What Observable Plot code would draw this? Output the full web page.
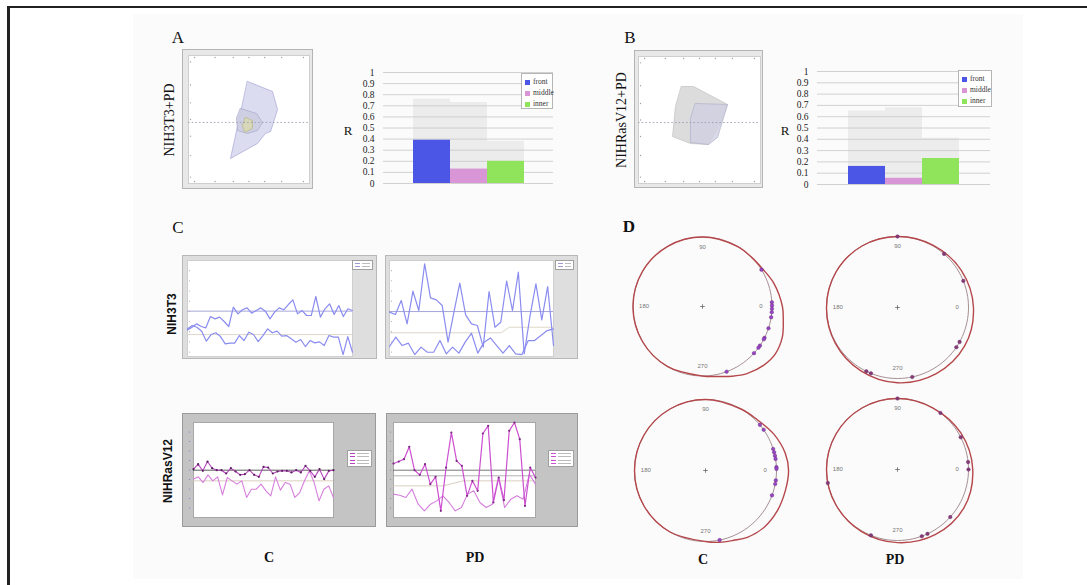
<!DOCTYPE html>
<html><head><meta charset="utf-8">
<script src="https://cdn.jsdelivr.net/npm/d3@7"></script>
<script src="https://cdn.jsdelivr.net/npm/@observablehq/plot@0.6"></script>
<style>
html,body{margin:0;padding:0;background:#fff;}
#fig{position:relative;width:1087px;height:585px;overflow:hidden;background:#fff;}
#fig svg{position:absolute;overflow:visible;}
</style></head><body><div id="fig"></div>
<script>
// ---------- DATA ----------
// Panels A/B bar charts
const barCategories = ["front", "middle", "inner"];
const barColors = ["#4b55e6", "#d896d6", "#8fe45c"];
const barValuesA = [0.39, 0.13, 0.20];
const barSpreadA = [0.76, 0.73, 0.38];
const barValuesB = [0.16, 0.055, 0.23];
const barSpreadB = [0.65, 0.68, 0.41];
const rTicks = [0, 0.1, 0.2, 0.3, 0.4, 0.5, 0.6, 0.7, 0.8, 0.9, 1];
const rTickLabels = ["0", "0.1", "0.2", "0.3", "0.4", "0.5", "0.6", "0.7", "0.8", "0.9", "1"];

// Panels A/B shape plots (units 0-100 of the inner area)
const radarAOuter = [[48.8,79.7],[69.4,71.9],[73.6,57.8],[67.8,40.6],[63.6,39.1],[57.0,31.3],[34.7,19.5],[42.1,51.6]];
const radarAMiddle = [[43.0,58.6],[56.2,54.7],[61.2,47.7],[57.0,41.4],[48.8,39.1],[40.5,41.4],[39.7,50.8]];
const radarAInner = [[47.1,51.6],[52.9,49.2],[52.9,43.0],[46.3,39.8],[44.6,45.3]];
const radarADash = 47.7;
const radarBOuter = [[35.2,76.4],[45.1,76.4],[73.0,62.2],[67.2,47.2],[57.4,30.7],[42.6,31.5],[27.9,37.0],[30.3,60.6]];
const radarBInner = [[46.7,63.0],[73.0,62.2],[64.8,36.2],[57.4,30.7],[42.6,32.3],[42.6,51.2]];
const radarBDash = 48.0;
const radarTicks = [5, 22, 37, 50, 63, 77, 95];

// Panel C traces
const nihC_upper = [31.8,34.4,37.7,35.1,33.8,44.9,42.6,44.3,40.0,35.1,54.1,47.5,51.5,53.4,48.2,50.8,53.4,50.2,42.6,49.2,53.4,51.5,56.7,61.3,47.5,50.8,45.9,45.9,64.6,44.3,52.5,57.4,46.9,55.7,44.9,52.5,50.8];
const nihC_lower = [32.8,36.1,34.4,30.5,20.7,27.2,28.9,25.2,18.0,18.7,18.7,26.2,21.3,29.5,27.2,20.3,26.2,32.8,28.9,30.5,25.6,26.2,23.0,19.7,22.3,15.4,21.3,19.0,20.0,16.4,26.2,24.6,24.6,7.5,25.2,9.8];
const nihC_refs = [50.2, 27.2];
const nihPD_upper = [49.2,46.9,60.7,37.7,69.8,50.8,96.7,63.3,61.3,55.7,19.7,49.2,77.7,46.6,37.7,36.1,14.8,69.5,34.4,39.3,79.7,50.8,88.5,8.2,45.9,77.0,41.6,74.4,16.4];
const nihPD_lower = [15.4,24.6,16.4,18.7,7.5,14.8,9.8,9.8,21.3,8.2,14.8,8.9,19.7,28.5,8.9,19.7,23.9,16.4,8.9,16.4,8.2,7.5,21.3,21.3,26.2,31.1,32.8];
const nihPD_ref = 49.8;
const nihPD_trend = [[0,28.9],[0.68,28.9],[0.73,34.4],[1,34.4]];
const rasC_line1 = [50.9,56.1,49.1,58.9,51.9,49.8,49.8,46.3,51.9,48.4,44.9,45.6,49.8,44.9,42.8,53.3,52.6,46.3,48.4,49.1,49.1,47.4,49.8,47.4,54.4,49.1,42.8,50.9,40.4,49.1,49.8];
const rasC_line2 = [40.4,42.8,36.8,44.9,38.6,42.8,23.9,42.1,38.6,35.1,38.6,21.1,29.8,29.8,35.1,28.1,22.8,42.8,28.8,36.8,35.1,21.1,26.3,38.6,49.1,36.8,17.5,29.8,33.3,21.1];
const rasC_refs = [49.8, 38.6];
const rasPD_line1 = [56.8,58.9,61.4,74.4,49.8,44.9,56.1,35.1,42.8,7.0,52.6,89.5,59.6,54.4,22.8,38.6,28.1,88.4,96.5,15.8,42.1,18.2,91.2,100,82.5,12.3,52.6,42.1];
const rasPD_line2 = [24.6,23.5,21.1,29.8,14.0,7.0,14.0,17.5,22.8,15.8,7.0,10.5,24.6,28.1,15.8,10.5,14.0,42.1,10.5,19.3,22.8,19.3,45.6,35.1];
const rasPD_refs = [49.8, 43.9];
const rasPD_trend = [[0,33.3],[0.35,33.3],[0.49,38.6],[1,38.6]];

// Panel D circular plots: angles (deg) of the cells, outer curve [angle, radius]
const anglesNihC = [32, 3.5, 0.8, -1.9, -4.7, -8.9, -18.3, -26.8, -28.1, -34.3, -36.4, -42.2, -69.7];
const anglesNihPD = [90, 49, 22, -29, -34, -78, -112, -116];
const anglesRasC = [40, 35, 17.6, 14.8, 12, 9.4, 2.7, 1.3, -8, -10.9, -20.5, -78.5];
const anglesRasPD = [90, 52.8, 27, 6, 0, 191, -42, -65, -70, -112];
const curveNihC = [[90,1],[60,1],[45,1],[32,1.02],[18,1.08],[0,1.15],[-10,1.18],[-21,1.23],[-33,1.25],[-44,1.22],[-56,1.16],[-67,1.09],[-78,1.03],[-90,1],[-120,1],[-150,1],[180,1],[150,1],[120,1]];
const curveNihPD = [[90,1],[60,1.01],[30,1.04],[0,1.07],[-30,1.09],[-60,1.08],[-90,1.06],[-120,1.03],[-150,1.01],[180,1],[150,1],[120,1]];
const curveRasC = [[90,1],[60,1],[45,1.02],[28,1.09],[12,1.15],[0,1.17],[-14,1.16],[-29,1.16],[-44,1.15],[-58,1.11],[-68,1.06],[-79,1.03],[-90,1],[-120,1],[-150,1],[180,1],[150,1],[120,1]];
const curveRasPD = [[90,1],[60,1.0],[30,1.03],[0,1.06],[-30,1.08],[-60,1.06],[-90,1.03],[-120,1.01],[-150,1],[180,1],[150,1],[120,1]];
const dirLabels = ["90", "0", "180", "270"];
const dirAngles = [90, 0, 180, 270];

// ---------- HELPERS ----------
const fig = document.getElementById("fig");
function place(el, x, y) { el.style.left = x + "px"; el.style.top = y + "px"; fig.appendChild(el); return el; }
function label(text, cx, cy, css, rot) {
  const d = document.createElement("div");
  d.textContent = text;
  d.style.cssText = `position:absolute;left:${cx}px;top:${cy}px;white-space:nowrap;line-height:1;transform:translate(-50%,-50%)${rot ? ` rotate(${rot}deg)` : ""};` + css;
  fig.appendChild(d);
}
function box(x, y, w, h, css) {
  const d = document.createElement("div");
  d.style.cssText = `position:absolute;left:${x}px;top:${y}px;width:${w}px;height:${h}px;box-sizing:border-box;` + css;
  fig.appendChild(d);
  return d;
}

// figure frame and faint background
box(133, 14, 890, 565, "background:#fbfbfb;");
box(7, 6, 1100, 600, "border-top:2px solid #222;border-left:3px solid #222;");

// ---------- BAR CHARTS ----------
function barChart(values, spread, left, top, width, height, ml, mr, mb, po) {
  const rows = barCategories.map((c, i) => ({cat: c, value: values[i], spread: spread[i]}));
  const svg = Plot.plot({
    width, height, marginLeft: ml, marginRight: mr, marginTop: 10, marginBottom: mb,
    style: {background: "none", fontFamily: "'Liberation Serif', serif", fontSize: "9px", color: "#222"},
    x: {domain: barCategories, paddingInner: 0, paddingOuter: po, axis: null},
    y: {domain: [0, 1], axis: null},
    color: {domain: barCategories, range: barColors},
    marks: [
      Plot.barY(rows, {x: "cat", y: "spread", fill: "#ececec"}),
      Plot.ruleY(rTicks, {stroke: "#c6c6c6", strokeWidth: 0.8}),
      Plot.barY(rows, {x: "cat", y: "value", fill: "cat"}),
      Plot.axisY(rTicks, {tickSize: 0, tickPadding: 9, tickFormat: d => rTickLabels[rTicks.indexOf(d)], fontSize: 9.5})
    ]
  });
  place(svg, left, top);
}
function barLegend(x, y, w, h) {
  const b = box(x, y, w, h, "background:#fff;border:1px solid #b5b5b5;padding:2px 0 0 3px;font:7.5px 'Liberation Serif',serif;color:#333;");
  barCategories.forEach((c, i) => {
    const r = document.createElement("div");
    r.style.cssText = "height:11px;line-height:11px;white-space:nowrap;";
    r.innerHTML = `<span style="display:inline-block;width:5px;height:5px;background:${barColors[i]};margin-right:3px;vertical-align:middle"></span>${c}`;
    b.appendChild(r);
  });
}
barChart(barValuesA, barSpreadA, 355, 62, 205, 130, 28, 7, 9, 0.77);
barLegend(521, 73, 32, 36);
barChart(barValuesB, barSpreadB, 790, 61, 205, 132, 27, 5, 9, 0.78);
barLegend(958, 70, 34, 37);

// ---------- SHAPE PLOTS ----------
function radar(left, top, width, height, ml, mr, mt, mb, polys, dashY) {
  const svg = Plot.plot({
    width, height, marginLeft: ml, marginRight: mr, marginTop: mt, marginBottom: mb,
    x: {domain: [0, 100], axis: null}, y: {domain: [0, 100], axis: null},
    style: {background: "#e8e8e8", outline: "1px solid #b4b4b4"},
    marks: [
      Plot.frame({fill: "#fff", stroke: "#cfcfcf"}),
      ...polys.map(p => Plot.line(p.pts, {x: d => d[0], y: d => d[1], curve: "linear-closed", fill: p.fill, fillOpacity: p.fo, stroke: p.stroke, strokeWidth: 0.7})),
      Plot.ruleY([dashY], {stroke: "#9a9ab2", strokeDasharray: "1.5,2.2", strokeWidth: 0.9}),
      Plot.dot(radarTicks, {x: d => d, frameAnchor: "top", dy: 2, r: 0.7, fill: "#a0a0a0"}),
      Plot.dot(radarTicks, {x: d => d, frameAnchor: "bottom", dy: -2, r: 0.7, fill: "#a0a0a0"}),
      Plot.dot(radarTicks, {y: d => d, frameAnchor: "left", dx: 2, r: 0.7, fill: "#a0a0a0"})
    ]
  });
  place(svg, left, top);
}
radar(183, 50, 129, 138, 5, 3, 5, 5, [
  {pts: radarAOuter, fill: "#d8d8ee", fo: 0.9, stroke: "#a6a6d6"},
  {pts: radarAMiddle, fill: "#cdcde2", fo: 0.9, stroke: "#a8a8cc"},
  {pts: radarAInner, fill: "#d8d8b4", fo: 0.9, stroke: "#b4b48a"}
], radarADash);
radar(635, 51, 127, 136, 3, 2, 5, 4, [
  {pts: radarBOuter, fill: "#dadada", fo: 0.95, stroke: "#c0c0c0"},
  {pts: radarBInner, fill: "#cfd0e2", fo: 0.8, stroke: "#b0b2cc"}
], radarBDash);

// ---------- LINE CHARTS ----------
const toPts = vals => vals.map((v, i) => ({x: i / (vals.length - 1), y: v}));
function lineChart(o) {
  const marks = [Plot.frame({fill: "#fff", stroke: o.frameStroke})];
  (o.trends || []).forEach(t => marks.push(Plot.line(t.pts, {x: d => d[0], y: d => d[1], stroke: t.stroke, strokeWidth: 0.9})));
  (o.refs || []).forEach(r => marks.push(Plot.ruleY([r.y], {stroke: r.stroke, strokeWidth: r.w || 0.9})));
  o.series.forEach(s => {
    marks.push(Plot.line(toPts(s.values), {x: "x", y: "y", stroke: s.stroke, strokeWidth: s.w}));
    if (s.dot) marks.push(Plot.dot(toPts(s.values), {x: "x", y: "y", r: 1.1, fill: s.dot}));
  });
  marks.push(Plot.dot(o.tickVals, {y: d => d, frameAnchor: "left", dx: o.tickDx, r: 0.6, fill: o.tickColor}));
  const svg = Plot.plot({
    width: o.width, height: o.height, marginLeft: o.ml, marginRight: o.mr, marginTop: o.mt, marginBottom: o.mb,
    x: {domain: [0, 1], axis: null}, y: {domain: o.yDomain, axis: null},
    style: {background: o.bg, outline: "1px solid " + o.outline},
    marks
  });
  place(svg, o.left, o.top);
}
const yTickVals = [10, 20, 30, 40, 50, 60, 70, 80, 90];
lineChart({left: 183, top: 256, width: 193, height: 102, ml: 4, mr: 24, mt: 4, mb: 2, bg: "#dedede", outline: "#b8b8b8", frameStroke: "#cfcfcf",
  yDomain: [5.6, 100], tickVals: yTickVals, tickDx: 2, tickColor: "#b0b0b0",
  refs: [{y: nihC_refs[0], stroke: "#9c9cd4"}, {y: nihC_refs[1], stroke: "#d9d2c2"}],
  series: [{values: nihC_upper, stroke: "#8a8cf0", w: 1.2}, {values: nihC_lower, stroke: "#8a8cf0", w: 1.2}]});
lineChart({left: 386, top: 256, width: 191, height: 102, ml: 3, mr: 24, mt: 4, mb: 2, bg: "#dedede", outline: "#b8b8b8", frameStroke: "#cfcfcf",
  yDomain: [5.6, 100], tickVals: yTickVals, tickDx: 2, tickColor: "#b0b0b0",
  refs: [{y: nihPD_ref, stroke: "#9c9cd4"}],
  trends: [{pts: nihPD_trend, stroke: "#d9d2c2"}],
  series: [{values: nihPD_upper, stroke: "#8a8cf0", w: 1.2}, {values: nihPD_lower, stroke: "#8a8cf0", w: 1.2}]});
lineChart({left: 183, top: 414, width: 192, height: 112, ml: 10, mr: 42, mt: 8, mb: 9, bg: "#c4c4c4", outline: "#9a9a9a", frameStroke: "#a8a8a8",
  yDomain: [0, 100], tickVals: yTickVals, tickDx: -4, tickColor: "#7a7ae0",
  refs: [{y: rasC_refs[0], stroke: "#333", w: 0.8}, {y: rasC_refs[1], stroke: "#d6c8b8"}],
  series: [{values: rasC_line2, stroke: "#d67fdc", w: 1.1}, {values: rasC_line1, stroke: "#b444bc", w: 1.1, dot: "#5a1f60"}]});
lineChart({left: 387, top: 414, width: 190, height: 112, ml: 6, mr: 42, mt: 8, mb: 9, bg: "#c4c4c4", outline: "#9a9a9a", frameStroke: "#a8a8a8",
  yDomain: [0, 100], tickVals: yTickVals, tickDx: -3, tickColor: "#8a8aa0",
  refs: [{y: rasPD_refs[0], stroke: "#555", w: 0.8}, {y: rasPD_refs[1], stroke: "#a8a8a8"}],
  trends: [{pts: rasPD_trend, stroke: "#d6c8b8"}],
  series: [{values: rasPD_line2, stroke: "#d47edc", w: 1.1}, {values: rasPD_line1, stroke: "#cc4fd0", w: 1.2, dot: "#7a2a80"}]});
// small legend boxes of the line charts
function miniLegend(x, y, w, h, rows, color) {
  const b = box(x, y, w, h, "background:#fff;border:1px solid #a0a0a0;padding:1px 2px;");
  for (let i = 0; i < rows; i++) {
    const r = document.createElement("div");
    r.style.cssText = `height:${(h - 4) / rows}px;display:flex;align-items:center;gap:2px;`;
    r.innerHTML = `<span style="display:inline-block;width:5px;height:1px;background:${color}"></span><span style="display:inline-block;width:${w - 12}px;height:1px;background:#bbb"></span>`;
    b.appendChild(r);
  }
}
miniLegend(352, 260, 21, 10, 2, "#9c9cd4");
miniLegend(555, 260, 19, 10, 2, "#9c9cd4");
miniLegend(347, 450, 25, 17, 4, "#b444bc");
miniLegend(548, 450, 26, 17, 4, "#cc4fd0");

// ---------- CIRCULAR PLOTS ----------
const rad = a => a * Math.PI / 180;
const circleAngles = d3.range(0, 360, 3);
function polar(cx, cy, r, angles, curve, ptColor) {
  const W = 190, H = 176;
  const svg = Plot.plot({
    width: W, height: H, margin: 0,
    x: {domain: [-W / 2 / r, W / 2 / r], axis: null},
    y: {domain: [-H / 2 / r, H / 2 / r], axis: null},
    style: {background: "none"},
    marks: [
      Plot.line(circleAngles, {x: a => Math.cos(rad(a)), y: a => Math.sin(rad(a)), curve: "linear-closed", stroke: "#a58f92", strokeWidth: 1}),
      Plot.line(curve, {x: d => d[1] * Math.cos(rad(d[0])), y: d => d[1] * Math.sin(rad(d[0])), curve: "catmull-rom-closed", stroke: "#b5474b", strokeWidth: 1.4}),
      Plot.text(dirLabels, {x: (d, i) => 0.84 * Math.cos(rad(dirAngles[i])), y: (d, i) => 0.86 * Math.sin(rad(dirAngles[i])), text: d => d, fontSize: 6, fill: "#777", fontFamily: "'Liberation Sans', sans-serif"}),
      Plot.dot([0], {x: 0, y: 0, r: 1.6, symbol: "plus", stroke: "#666", strokeWidth: 0.8}),
      Plot.dot(angles, {x: a => Math.cos(rad(a)), y: a => Math.sin(rad(a)), r: 1.8, fill: ptColor, stroke: "#5a2a70", strokeWidth: 0.4})
    ]
  });
  place(svg, cx - W / 2, cy - H / 2);
}
polar(702, 306, 69.5, anglesNihC, curveNihC, "#9a44c8");
polar(897, 307, 71, anglesNihPD, curveNihPD, "#8a3a72");
polar(705, 470, 71, anglesRasC, curveRasC, "#9a44c8");
polar(897, 469, 71, anglesRasPD, curveRasPD, "#8a3a72");

// ---------- TEXT ----------
const serif = "font-family:'Liberation Serif',serif;color:#111;";
label("A", 178, 37, serif + "font-size:17px;");
label("B", 630, 37, serif + "font-size:17px;");
label("C", 178, 227, serif + "font-size:17px;");
label("D", 629, 226, serif + "font-size:17px;font-weight:bold;");
label("NIH3T3+PD", 170, 120, serif + "font-size:14px;", -90);
label("NIHRasV12+PD", 622, 120, serif + "font-size:14px;", -90);
label("R", 348, 130, serif + "font-size:13px;");
label("R", 785, 130, serif + "font-size:13px;");
const sansB = "font-family:'Liberation Sans',sans-serif;font-weight:bold;color:#111;";
label("NIH3T3", 172, 314, sansB + "font-size:12px;", -90);
label("NIHRasV12", 168, 471, sansB + "font-size:12px;", -90);
const serifB = "font-family:'Liberation Serif',serif;font-weight:bold;color:#111;font-size:14px;";
label("C", 269, 558, serifB);
label("PD", 475, 558, serifB);
label("C", 703, 560, serifB);
label("PD", 895, 560, serifB);
</script></body></html>
